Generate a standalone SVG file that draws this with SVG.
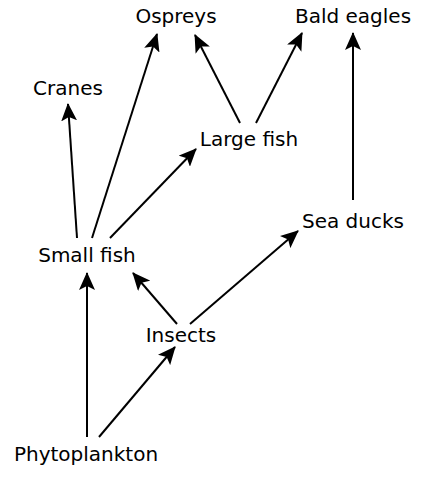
<svg xmlns="http://www.w3.org/2000/svg" width="432" height="477" viewBox="0 0 432 477">
<style>
text{font-family:"DejaVu Sans","Verdana",sans-serif;font-size:20px;fill:#000;text-anchor:middle}
.c line{stroke:#000;stroke-width:2;marker-end:url(#ah)}
</style>
<defs>
<marker id="ah" markerUnits="userSpaceOnUse" viewBox="0 0 18 16" markerWidth="18" markerHeight="16" refX="17" refY="8" orient="auto">
<path d="M0,0 L18,8 L0,16 L4,8 z" fill="#000"/>
</marker>
</defs>
<rect width="432" height="477" fill="#fff"/>
<g id="ospreys"><text x="176" y="23">Ospreys</text></g>
<g id="bald-eagles"><text x="353" y="23">Bald eagles</text></g>
<g id="cranes"><text x="68" y="95">Cranes</text></g>
<g id="large-fish"><text x="249" y="146">Large fish</text></g>
<g id="sea-ducks"><text x="353" y="228">Sea ducks</text></g>
<g id="small-fish"><text x="87" y="262">Small fish</text></g>
<g id="insects"><text x="181" y="342">Insects</text></g>
<g id="phytoplankton"><text x="86" y="461">Phytoplankton</text></g>
<g class="c" id="connectors">
<line x1="77" y1="238" x2="68" y2="104"/>
<line x1="92" y1="238" x2="157" y2="34"/>
<line x1="110" y1="238" x2="196" y2="149"/>
<line x1="240" y1="123" x2="195" y2="35"/>
<line x1="256" y1="123" x2="302" y2="33"/>
<line x1="353" y1="200" x2="353" y2="33"/>
<line x1="190" y1="324" x2="298" y2="231"/>
<line x1="177" y1="324" x2="133" y2="273"/>
<line x1="87" y1="437" x2="87" y2="273"/>
<line x1="99" y1="437" x2="175" y2="347"/>
</g>
</svg>
